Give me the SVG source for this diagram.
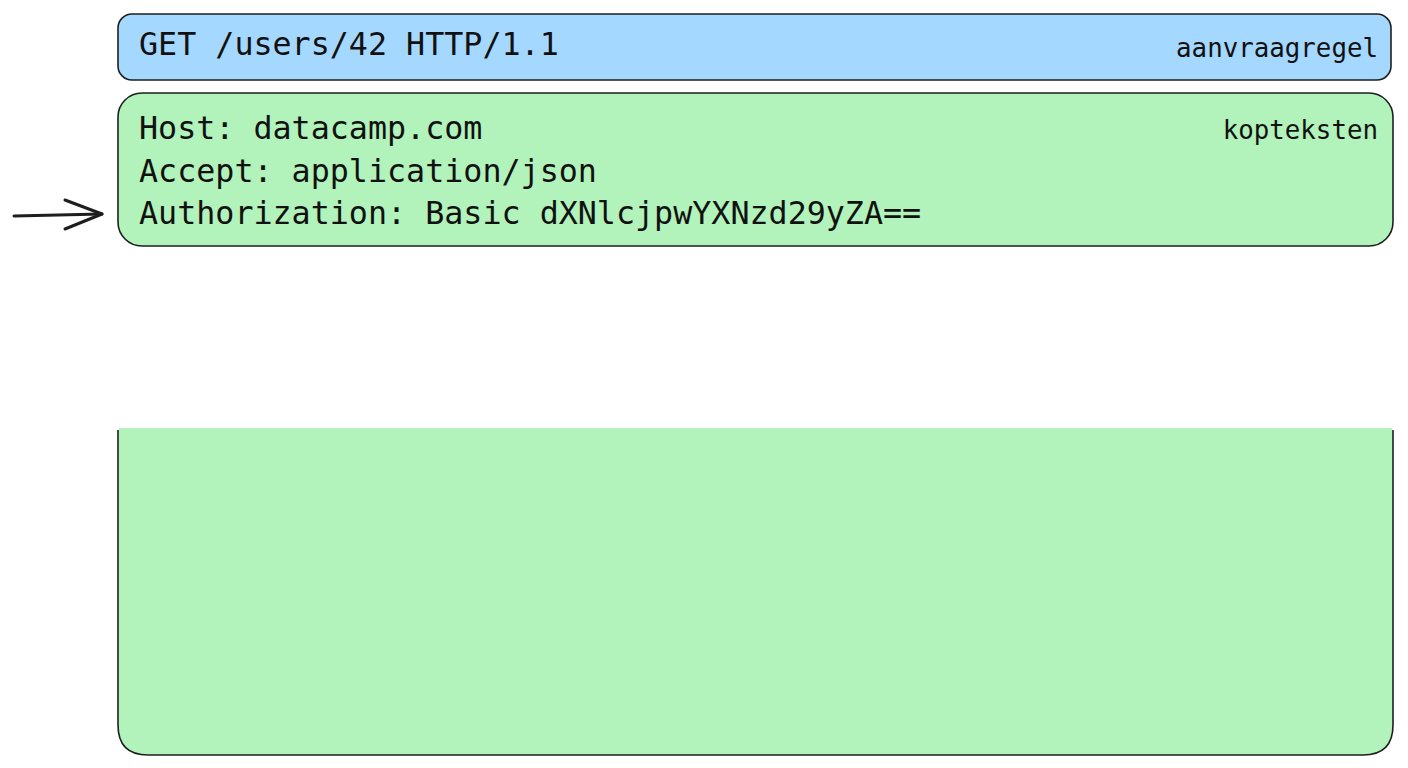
<svg xmlns="http://www.w3.org/2000/svg" width="1408" height="768" viewBox="0 0 1408 768">
<style>
.box{stroke:#1e1e1e;stroke-width:1.6}
.mono{font-family:"DejaVu Sans Mono","Liberation Mono",monospace;fill:#111}
.main{font-size:31.7px}
.lab{font-size:25.8px;text-anchor:end}
</style>
<rect width="1408" height="768" fill="#ffffff"/>
<g id="request-line">
<rect class="box" x="118" y="14" width="1273" height="66" rx="14" fill="#a5d8ff"/>
<text class="mono main" x="139" y="55">GET /users/42 HTTP/1.1</text>
<text class="mono lab" x="1378" y="57">aanvraagregel</text>
</g>
<g id="headers">
<rect class="box" x="118" y="93" width="1275" height="153" rx="24" fill="#b2f2bb"/>
<text class="mono main" x="139" y="139">Host: datacamp.com</text>
<text class="mono main" x="139" y="182">Accept: application/json</text>
<text class="mono main" x="139" y="224">Authorization: Basic dXNlcjpwYXNzd29yZA==</text>
<text class="mono lab" x="1378" y="139">kopteksten</text>
</g>
<g id="body">
<path class="box" d="M118,430 V725 Q118,755 148,755 H1363 Q1393,755 1393,725 V430" fill="#b2f2bb"/>
<rect x="119" y="428" width="1273" height="3" fill="#b2f2bb"/>
</g>
<g id="connectors">
<path d="M14,216 L102,214" stroke="#1e1e1e" stroke-width="3" fill="none" stroke-linecap="round"/>
<path d="M65,200 L102,214 L65,229" stroke="#1e1e1e" stroke-width="3" fill="none" stroke-linecap="round" stroke-linejoin="round"/>
</g>
</svg>
